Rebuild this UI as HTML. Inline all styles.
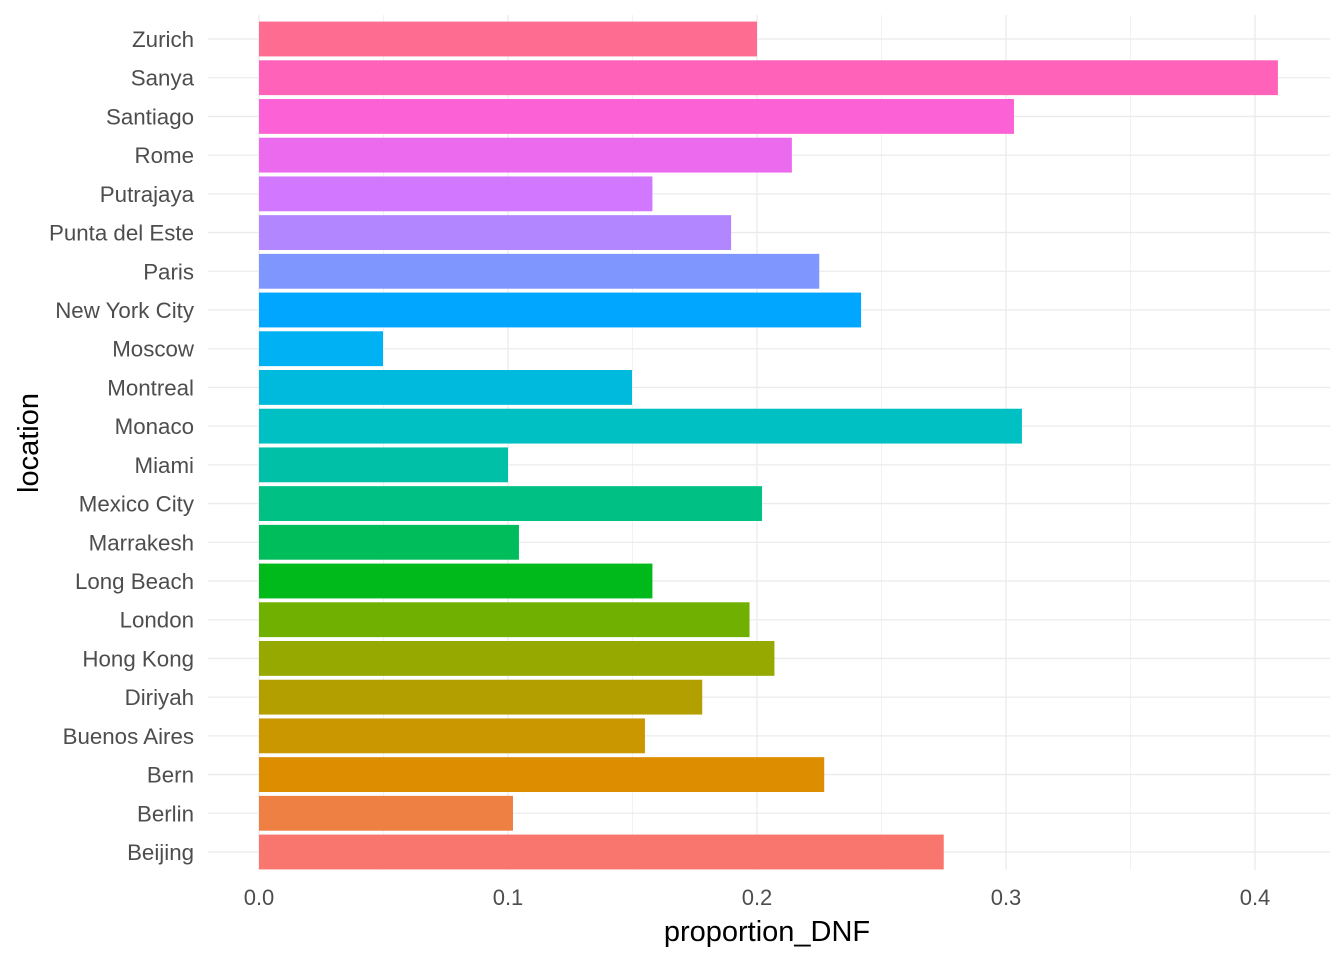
<!DOCTYPE html>
<html><head><meta charset="utf-8"><style>
body{margin:0;background:#fff;}
svg{display:block;font-family:"Liberation Sans",sans-serif;}
</style></head><body>
<svg id="chart" width="1344" height="960"></svg>
<script>
const categories=["Beijing","Berlin","Bern","Buenos Aires","Diriyah","Hong Kong","London","Long Beach","Marrakesh","Mexico City","Miami","Monaco","Montreal","Moscow","New York City","Paris","Punta del Este","Putrajaya","Rome","Santiago","Sanya","Zurich"];
const values=[0.275,0.102,0.227,0.155,0.178,0.207,0.197,0.158,0.1044,0.202,0.1,0.3064,0.1498,0.0498,0.2418,0.225,0.1896,0.158,0.214,0.3032,0.4092,0.2];
const xTicks=[0,0.1,0.2,0.3,0.4];
const xTickLabels=["0.0","0.1","0.2","0.3","0.4"];
const colors=["#F8766D","#EE8043","#DD8D00","#CA9700","#B3A000","#96A900","#6FB000","#00BA1C","#00BD5C","#00C084","#00C1A7","#00C0C4","#00BADE","#00B2F3","#00A6FF","#7F96FF","#B186FF","#D277FF","#EB6AEE","#FC61D5","#FF62B9","#FF6C91"];
const svg=document.getElementById('chart');
const NS="http://www.w3.org/2000/svg";
const L=208,R=1330,T=15,B=870;
const x=v=>259+v*2490;
const step=(852-39)/(categories.length-1);
const y=i=>852-i*step;
function mk(t,a,p){const e=document.createElementNS(NS,t);for(const k in a)e.setAttribute(k,a[k]);(p||svg).appendChild(e);return e;}
for(let i=0;i<xTicks.length;i++){const m=xTicks[i]+0.05;const g=mk('line',{x1:x(m),x2:x(m),y1:T,y2:B,stroke:'#f2f2f2','stroke-width':1});

}
xTicks.forEach((v,i)=>{const g=mk('line',{x1:x(v),x2:x(v),y1:T,y2:B,stroke:'#ebebeb','stroke-width':1.3});


const t=mk('text',{x:x(v),y:905,'text-anchor':'middle','font-size':22,fill:'#4d4d4d'});t.textContent=xTickLabels[i];

});
categories.forEach((c,i)=>{const g=mk('line',{x1:L,x2:R,y1:y(i),y2:y(i),stroke:'#ebebeb','stroke-width':1.3});

});
categories.forEach((c,i)=>{const h=step*0.9;
const b=mk('rect',{x:x(0),y:y(i)-h/2,width:x(values[i])-x(0),height:h,fill:colors[i]});


const t=mk('text',{x:194,y:y(i)+8,'text-anchor':'end','font-size':22.3,fill:'#4d4d4d'});t.textContent=c;

});
const xt=mk('text',{x:767,y:941,'text-anchor':'middle','font-size':29,fill:'#000'});xt.textContent='proportion_DNF';


const yt=mk('text',{x:0,y:0,transform:'translate(38,443) rotate(-90)','text-anchor':'middle','font-size':29,fill:'#000'});yt.textContent='location';


</script>
</body></html>
